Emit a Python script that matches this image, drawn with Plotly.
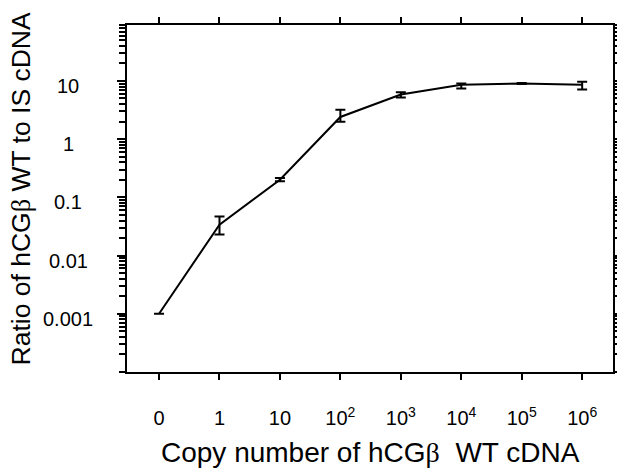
import plotly.graph_objects as go
import math

# ---- data ----
categories = ["0", "1", "10", "10<sup>2</sup>", "10<sup>3</sup>",
              "10<sup>4</sup>", "10<sup>5</sup>", "10<sup>6</sup>"]
ratio_mean = [0.001, 0.034, 0.20, 2.4, 5.85, 8.6, 9.0, 8.6]
ratio_upper = [0.001, 0.047, 0.215, 3.2, 6.4, 9.0, 9.2, 9.7]
ratio_lower = [0.001, 0.023, 0.188, 1.98, 5.2, 7.4, 8.8, 7.1]
y_tick_values = [0.001, 0.01, 0.1, 1, 10]
y_tick_labels = ["0.001", "0.01", "0.1", "1", "10"]

x_title = "Copy number of hCG<span style='font-family:Liberation Serif'>\u03b2</span>\u00a0\u00a0WT cDNA"
y_title = "Ratio of hCG<span style='font-family:Liberation Serif'>\u03b2</span> WT to IS cDNA"

err_plus = [u - m for u, m in zip(ratio_upper, ratio_mean)]
err_minus = [m - l for m, l in zip(ratio_mean, ratio_lower)]

FONT = "Liberation Sans, Arial, sans-serif"

fig = go.Figure()
fig.add_trace(go.Scatter(
    x=categories, y=ratio_mean, mode="lines",
    line=dict(color="black", width=2),
    error_y=dict(type="data", symmetric=False, array=err_plus, arrayminus=err_minus,
                 color="black", thickness=2, width=5, visible=True),
    showlegend=False, hoverinfo="skip",
))

annotations = []
for v, t in zip(y_tick_values, y_tick_labels):
    annotations.append(dict(
        x=0, xref="paper", xshift=-59, xanchor="center",
        y=math.log10(v), yref="y", yshift=-5, yanchor="middle",
        text=t, showarrow=False, font=dict(family=FONT, size=20, color="black"),
    ))
annotations.append(dict(
    x=0.5, xref="paper", y=0, yref="paper", yshift=-80, yanchor="middle",
    xanchor="center", text=x_title, showarrow=False,
    font=dict(family=FONT, size=28, color="black"),
))
annotations.append(dict(
    x=0, xref="paper", xshift=-107, xanchor="center",
    y=0.5, yref="paper", yshift=10, yanchor="middle",
    text=y_title, textangle=-90, showarrow=False,
    font=dict(family=FONT, size=26.5, color="black"),
))

fig.update_layout(
    width=617, height=469,
    margin=dict(l=127, r=4, t=25, b=97, autoexpand=False),
    paper_bgcolor="white", plot_bgcolor="white",
    font=dict(family=FONT, size=20, color="black"),
    annotations=annotations,
)
fig.update_xaxes(
    type="category", range=[-0.53, 7.51], automargin=False,
    showline=True, linecolor="black", linewidth=2, mirror="ticks",
    ticks="outside", ticklen=6, tickwidth=2, tickcolor="black",
    ticklabelstandoff=21, tickfont=dict(family=FONT, size=20, color="black"),
    showgrid=False, zeroline=False,
)
fig.update_yaxes(
    type="log", range=[-4, 1.96], automargin=False,
    showline=True, linecolor="black", linewidth=2, mirror="ticks",
    ticks="outside", ticklen=8, tickwidth=2, tickcolor="black",
    tickvals=y_tick_values, showticklabels=False,
    minor=dict(ticks="outside", ticklen=6, tickwidth=1.5, tickcolor="black", dtick="D1", showgrid=False),
    showgrid=False, zeroline=False,
)

fig.write_html("out.html", config={"displayModeBar": False},
               post_script="document.body.style.margin='0';document.body.style.overflow='hidden';")
